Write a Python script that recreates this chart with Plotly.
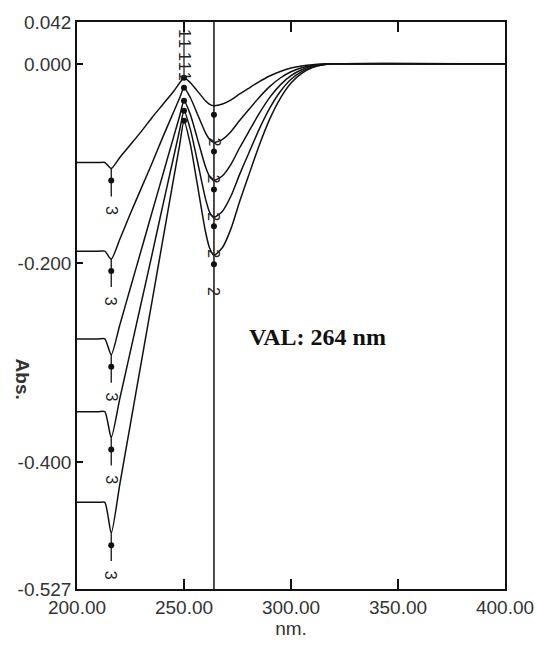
import plotly.graph_objects as go

# Wavelength grid (nm) shared by all spectra
wavelength = [200, 210, 213, 216, 220, 225, 230, 235, 240, 245, 248, 250, 253, 256, 260, 262,
              264, 268, 272, 276, 280, 285, 290, 295, 300, 305, 310, 315, 320, 400]

# Absorbance of the five overlaid spectra
abs_1 = [-0.099, -0.099, -0.099, -0.105, -0.094, -0.081, -0.068, -0.054, -0.041, -0.028, -0.019, -0.014,
         -0.019, -0.0266, -0.037, -0.0406, -0.042, -0.0403, -0.0361, -0.0302, -0.0248, -0.0181, -0.0122,
         -0.0076, -0.0042, -0.0021, -0.0008, -0.0002, 0.0, 0.0]
abs_2 = [-0.188, -0.188, -0.188, -0.196, -0.176, -0.150, -0.125, -0.100, -0.074, -0.049, -0.034, -0.024,
         -0.034, -0.049, -0.069, -0.076, -0.079, -0.0758, -0.0679, -0.0569, -0.0466, -0.0340, -0.0229,
         -0.0142, -0.0079, -0.0040, -0.0016, -0.0004, 0.0, 0.0]
abs_3 = [-0.276, -0.276, -0.276, -0.292, -0.262, -0.2245, -0.187, -0.1495, -0.112, -0.0745, -0.052, -0.037,
         -0.051, -0.073, -0.103, -0.113, -0.117, -0.1123, -0.1006, -0.0842, -0.0690, -0.0503, -0.0339,
         -0.0211, -0.0117, -0.0059, -0.0023, -0.0006, 0.0, 0.0]
abs_4 = [-0.349, -0.349, -0.349, -0.375, -0.336, -0.288, -0.240, -0.192, -0.143, -0.095, -0.066, -0.047,
         -0.066, -0.095, -0.135, -0.149, -0.154, -0.1478, -0.1324, -0.1109, -0.0909, -0.0662, -0.0447,
         -0.0277, -0.0154, -0.0077, -0.0031, -0.0008, 0.0, 0.0]
abs_5 = [-0.440, -0.440, -0.440, -0.471, -0.422, -0.361, -0.300, -0.239, -0.178, -0.117, -0.081, -0.057,
         -0.081, -0.118, -0.168, -0.185, -0.192, -0.1843, -0.1651, -0.1382, -0.1133, -0.0826, -0.0557,
         -0.0346, -0.0192, -0.0096, -0.0038, -0.0010, 0.0, 0.0]
spectra = [abs_1, abs_2, abs_3, abs_4, abs_5]

# Picked points: 1 = maximum, 2 = minimum, 3 = shoulder
peak_nm = 250
valley_nm = 264
shoulder_nm = 216
peak_abs = [-0.014, -0.024, -0.037, -0.047, -0.057]
valley_abs = [-0.042, -0.079, -0.117, -0.154, -0.192]
shoulder_abs = [-0.105, -0.196, -0.292, -0.375, -0.471]

VAL_NM = 264

x_ticks = [200, 250, 300, 350, 400]
x_ticktext = ["200.00", "250.00", "300.00", "350.00", "400.00"]
y_ticks = [-0.527, -0.4, -0.2, 0.0, 0.042]
y_ticktext = ["-0.527", "-0.400", "-0.200", "0.000", "0.042"]

fig = go.Figure()

for ys in spectra:
    fig.add_trace(go.Scatter(x=wavelength, y=ys, mode="lines",
                             line=dict(color="#111111", width=1.5, shape="spline", smoothing=0.6),
                             hoverinfo="skip", showlegend=False))

# stem above the maxima
fig.add_trace(go.Scatter(x=[peak_nm, peak_nm], y=[peak_abs[0], 0.042], mode="lines",
                         line=dict(color="#111111", width=1.2), showlegend=False, hoverinfo="skip"))

# stems below the shoulders
stem_x, stem_y = [], []
for v in shoulder_abs:
    stem_x += [shoulder_nm, shoulder_nm, None]
    stem_y += [v, v - 0.028, None]
fig.add_trace(go.Scatter(x=stem_x, y=stem_y, mode="lines",
                         line=dict(color="#111111", width=1.3), showlegend=False, hoverinfo="skip"))

dot = dict(color="#111111", size=6)
fig.add_trace(go.Scatter(x=[peak_nm] * 5, y=peak_abs, mode="markers", marker=dot,
                         showlegend=False, hoverinfo="skip"))
fig.add_trace(go.Scatter(x=[valley_nm] * 5, y=[v - 0.009 for v in valley_abs], mode="markers",
                         marker=dot, showlegend=False, hoverinfo="skip"))
fig.add_trace(go.Scatter(x=[shoulder_nm] * 5, y=[v - 0.012 for v in shoulder_abs], mode="markers",
                         marker=dot, showlegend=False, hoverinfo="skip"))

label_font = dict(family="Liberation Sans, Arial, sans-serif", size=16, color="#222222")
for v in peak_abs:
    fig.add_annotation(x=peak_nm, y=v + 0.045, text="1", textangle=90, showarrow=False,
                       font=label_font)
for v in valley_abs:
    fig.add_annotation(x=valley_nm, y=v - 0.037, text="2", textangle=90, showarrow=False,
                       font=label_font)
for v in shoulder_abs:
    fig.add_annotation(x=shoulder_nm, y=v - 0.042, text="3", textangle=90, showarrow=False,
                       font=label_font)

# cursor line at the selected wavelength
fig.add_shape(type="line", x0=VAL_NM, x1=VAL_NM, y0=0, y1=1, xref="x", yref="y domain",
              line=dict(color="#111111", width=1.5))

fig.add_annotation(x=0.563, y=0.444, xref="paper", yref="paper", text=f"<b>VAL: {VAL_NM} nm</b>",
                   showarrow=False,
                   font=dict(family="Liberation Serif, Times New Roman, serif", size=24, color="#111111"))

fig.add_annotation(x=-0.127, y=0.37, xref="paper", yref="paper", xanchor="center",
                   text="<b>Abs.</b>", textangle=90, showarrow=False,
                   font=dict(family="Liberation Sans, Arial, sans-serif", size=19, color="#333333"))

tick_font = dict(family="Liberation Sans, Arial, sans-serif", size=19, color="#333333")

fig.update_xaxes(range=[200, 400], tickvals=x_ticks, ticktext=x_ticktext, ticks="inside",
                 ticklen=10, tickwidth=1.5, tickcolor="#111111", showline=True, linecolor="#111111",
                 linewidth=1.5, mirror="ticks", showgrid=False, zeroline=False, tickfont=tick_font,
                 automargin=False, title=dict(text="nm.", font=tick_font, standoff=2))
fig.update_yaxes(range=[-0.527, 0.042], tickvals=y_ticks, ticktext=y_ticktext, ticks="inside",
                 ticklen=6, tickwidth=1.5, tickcolor="#111111", showline=True, linecolor="#111111",
                 linewidth=1.5, mirror=True, showgrid=False, zeroline=False, tickfont=tick_font,
                 automargin=False)

fig.update_layout(width=537, height=651, margin=dict(l=77, r=32, t=22, b=62),
                  paper_bgcolor="white", plot_bgcolor="white")

fig.write_html("out.html")
